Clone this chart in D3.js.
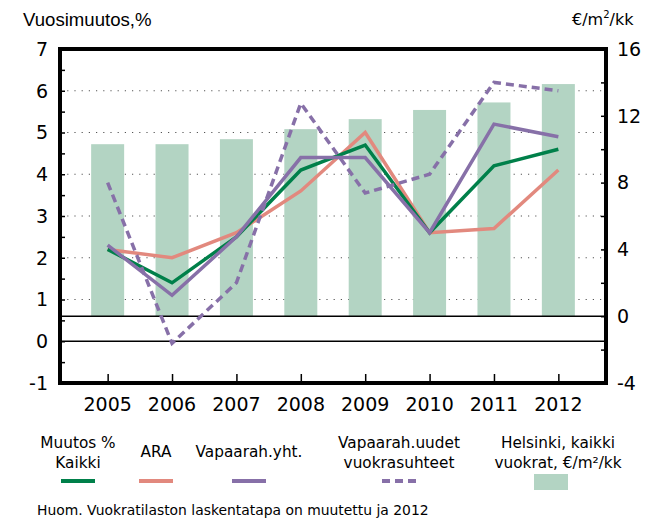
<!DOCTYPE html>
<html>
<head>
<meta charset="utf-8">
<script src="https://cdn.jsdelivr.net/npm/d3@7"></script>
<style>
	body { margin: 0; background: #fff; }
	text { font-family: "DejaVu Sans", Verdana, sans-serif; fill: #000; }
</style>
</head>
<body>
<script>
// data
var years = ["2005","2006","2007","2008","2009","2010","2011","2012"];
var kaikki = [2.2, 1.4, 2.5, 4.1, 4.7, 2.6, 4.2, 4.6];
var ara = [2.2, 2.0, 2.6, 3.6, 5.0, 2.6, 2.7, 4.1];
var vapaaYht = [2.3, 1.1, 2.5, 4.4, 4.4, 2.6, 5.2, 4.9];
var vapaaUudet = [3.8, -0.05, 1.4, 5.7, 3.55, 4.0, 6.2, 6.0];
var helsinkiRent = [10.3, 10.3, 10.6, 11.2, 11.8, 12.35, 12.8, 13.9];
var leftTicks = [-1, 0, 1, 2, 3, 4, 5, 6, 7];
var rightTicks = [-4, 0, 4, 8, 12, 16];
var legendLabels = [["Muutos %", "Kaikki"], ["ARA"], ["Vapaarah.yht."], ["Vapaarah.uudet", "vuokrasuhteet"], ["Helsinki, kaikki", "vuokrat, €/m²/kk"]];

var W = 647, H = 519;
var plot = { left: 60, right: 606, top: 49, bottom: 383 };

var svg = d3.select("body").append("svg")
			.attr("width", W)
			.attr("height", H);

var x = d3.scalePoint()
		.domain(years)
		.range([plot.left, plot.right])
		.padding(0.74);
var yL = d3.scaleLinear().domain([-1, 7]).range([plot.bottom, plot.top]);
var yR = d3.scaleLinear().domain([-4, 16]).range([plot.bottom, plot.top]);
var barW = 33;

// dotted grid
svg.append("g").selectAll("line")
	.data([1, 2, 3, 4, 5, 6])
	.enter().append("line")
	.attr("x1", plot.left).attr("x2", plot.right)
	.attr("y1", function(d){ return yL(d); })
	.attr("y2", function(d){ return yL(d); })
	.attr("stroke", "#555")
	.attr("stroke-width", 1.2)
	.attr("stroke-dasharray", "1.2,6");

// bars on right axis
svg.append("g").selectAll("rect")
	.data(helsinkiRent)
	.enter().append("rect")
	.attr("x", function(d, i){ return x(years[i]) - barW / 2; })
	.attr("y", function(d){ return yR(d); })
	.attr("width", barW)
	.attr("height", function(d){ return yR(0) - yR(d); })
	.attr("fill", "#b3d4c3");

// zero lines of both axes
[yL(0), yR(0)].forEach(function(yy){
	svg.append("line")
		.attr("x1", plot.left).attr("x2", plot.right)
		.attr("y1", yy).attr("y2", yy)
		.attr("stroke", "#000").attr("stroke-width", 1.5);
});

var line = d3.line()
		.x(function(d, i){ return x(years[i]); })
		.y(function(d){ return yL(d); });

var series = [
	{ values: ara, color: "#e2897e", dash: null },
	{ values: kaikki, color: "#00804a", dash: null },
	{ values: vapaaYht, color: "#8770a8", dash: null },
	{ values: vapaaUudet, color: "#8770a8", dash: "8,5" }
];
svg.append("g").selectAll("path")
	.data(series)
	.enter().append("path")
	.attr("d", function(s){ return line(s.values); })
	.attr("fill", "none")
	.attr("stroke", function(s){ return s.color; })
	.attr("stroke-width", 3.5)
	.attr("stroke-dasharray", function(s){ return s.dash; });

// axes (ticks pointing inward)
var leftAxis = d3.axisRight(yL).tickValues(d3.range(-1, 7.01, 0.5)).tickSize(5).tickFormat("");
svg.append("g").attr("transform", "translate(" + plot.left + ",0)").call(leftAxis)
	.call(function(g){ g.select(".domain").remove(); g.selectAll("line").attr("stroke-width", 1.5); });
var rightAxis = d3.axisLeft(yR).tickValues(d3.range(-4, 16.01, 2)).tickSize(5).tickFormat("");
svg.append("g").attr("transform", "translate(" + plot.right + ",0)").call(rightAxis)
	.call(function(g){ g.select(".domain").remove(); g.selectAll("line").attr("stroke-width", 1.5); });
var bottomAxis = d3.axisTop(x).tickSize(9).tickFormat("");
svg.append("g").attr("transform", "translate(0," + plot.bottom + ")").call(bottomAxis)
	.call(function(g){ g.select(".domain").remove(); g.selectAll("line").attr("stroke-width", 1.5); });

// frame
svg.append("rect")
	.attr("x", plot.left).attr("y", plot.top)
	.attr("width", plot.right - plot.left)
	.attr("height", plot.bottom - plot.top)
	.attr("fill", "none")
	.attr("stroke", "#000")
	.attr("stroke-width", 4);

// tick labels
svg.append("g").selectAll("text")
	.data(leftTicks)
	.enter().append("text")
	.attr("x", 48)
	.attr("y", function(d){ return yL(d); })
	.attr("dy", "0.36em")
	.attr("text-anchor", "end")
	.style("font-size", "19px")
	.text(function(d){ return d; });
svg.append("g").selectAll("text")
	.data(rightTicks)
	.enter().append("text")
	.attr("x", 617)
	.attr("y", function(d){ return yR(d); })
	.attr("dy", "0.36em")
	.style("font-size", "19px")
	.text(function(d){ return d; });
svg.append("g").selectAll("text")
	.data(years)
	.enter().append("text")
	.attr("x", function(d){ return x(d); })
	.attr("y", 411)
	.attr("text-anchor", "middle")
	.style("font-size", "19px")
	.text(function(d){ return d; });

// axis titles
svg.append("text")
	.attr("x", 23).attr("y", 26)
	.style("font-family", "'Liberation Sans', Arial, sans-serif")
	.style("font-size", "18.6px")
	.text("Vuosimuutos,%");
var rt = svg.append("text")
	.attr("x", 572).attr("y", 25)
	.style("font-size", "16px");
rt.append("tspan").text("€/m");
rt.append("tspan").attr("dy", -7).style("font-size", "10px").text("2");
rt.append("tspan").attr("dy", 7).text("/kk");

// legend
var legendX = [78, 156, 249, 399, 558];
var legend = svg.append("g").selectAll("g")
	.data(legendLabels)
	.enter().append("g")
	.attr("transform", function(d, i){ return "translate(" + legendX[i] + ",0)"; });
legend.each(function(lines){
	var g = d3.select(this);
	lines.forEach(function(t, k){
		var yy = lines.length == 1 ? 451 : 442 + k * 20;
		g.append("text")
			.attr("y", yy)
			.attr("dy", "0.36em")
			.attr("text-anchor", "middle")
			.style("font-size", "15.3px")
			.text(t);
	});
});
legend.each(function(d, i){
	var g = d3.select(this);
	if (i < 4) {
		g.append("line")
			.attr("x1", -17).attr("x2", 17)
			.attr("y1", 481).attr("y2", 481)
			.attr("stroke", series[[1, 0, 2, 3][i]].color)
			.attr("stroke-width", 4)
			.attr("stroke-dasharray", series[[1, 0, 2, 3][i]].dash);
	} else {
		g.append("rect")
			.attr("x", -24).attr("y", 474)
			.attr("width", 34).attr("height", 16)
			.attr("fill", "#b3d4c3");
	}
});

svg.append("text")
	.attr("x", 37).attr("y", 510)
	.attr("dy", "0.36em")
	.style("font-size", "13.9px")
	.text("Huom. Vuokratilaston laskentatapa on muutettu ja 2012");
</script>
</body>
</html>
